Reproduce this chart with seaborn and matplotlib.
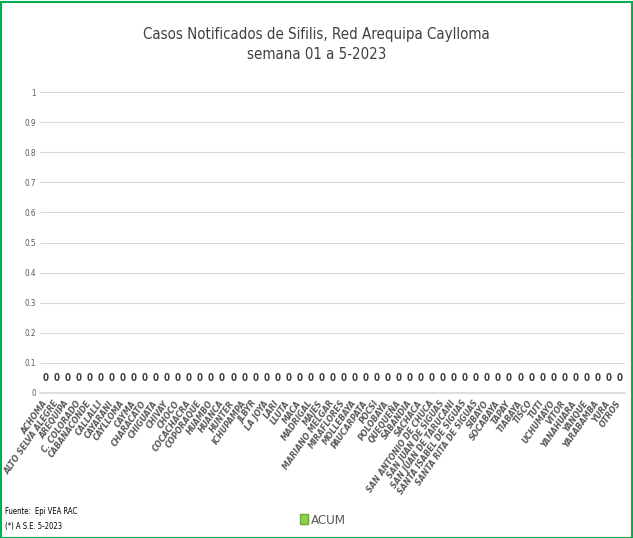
import matplotlib
matplotlib.use("Agg")
import matplotlib.pyplot as plt
import seaborn as sns
import pandas as pd
from matplotlib.patches import Rectangle, Patch

categories = ["ACHOMA", "ALTO SELVA ALEGRE", "AREQUIPA", "C. COLORADO", "CABANACONDE",
              "CALLALLI", "CAYARANI", "CAYLLOMA", "CAYMA", "CHARACATO", "CHIGUATA",
              "CHIVAY", "CHOCO", "COCACHACRA", "COPORAQUE", "HUAMBO", "HUANCA", "HUNTER",
              "ICHUPAMPA", "JLBYR", "LA JOYA", "LARI", "LLUTA", "MACA", "MADRIGAL", "MAJES",
              "MARIANO MELGAR", "MIRAFLORES", "MOLLEBAYA", "PAUCARPATA", "POCSI", "POLOBAYA",
              "QUEQUEÑA", "SABANDIA", "SACHACA", "SAN ANTONIO DE CHUCA", "SAN JUAN DE SIGUAS",
              "SAN JUAN DE TARUCANI", "SANTA ISABEL DE SIGUAS", "SANTA RITA DE SIGUAS",
              "SIBAYO", "SOCABAYA", "TAPAY", "TIABAYA", "TISCO", "TUTI", "UCHUMAYO", "VITOR",
              "YANAHUARA", "YANQUE", "YARABAMBA", "YURA", "OTROS"]
acum = [0] * len(categories)
y_ticks = [0, 0.1, 0.2, 0.3, 0.4, 0.5, 0.6, 0.7, 0.8, 0.9, 1]
y_tick_labels = ["0", "0.1", "0.2", "0.3", "0.4", "0.5", "0.6", "0.7", "0.8", "0.9", "1"]

df = pd.DataFrame({"cat": categories, "ACUM": acum})

sns.set_theme(style="white")
plt.rcParams["font.family"] = ["DejaVu Sans"]

fig = plt.figure(figsize=(6.33, 5.38), dpi=100)
ax = fig.add_axes([40 / 633, 1 - 393 / 538, 585 / 633, 301 / 538])

green = "#92d050"
sns.barplot(data=df, x="cat", y="ACUM", color=green, ax=ax, width=0.6)

ax.set_ylim(0, 1)
ax.set_yticks(y_ticks)
ax.set_yticklabels(y_tick_labels, fontsize=5.8, color="#595959", fontstretch="condensed")
ax.grid(axis="y", color="#d9d9d9", linewidth=0.8)
ax.set_axisbelow(True)
for s in ["left", "right", "top"]:
    ax.spines[s].set_visible(False)
ax.spines["bottom"].set_color("#d9d9d9")
ax.tick_params(axis="y", length=0, pad=3)
ax.tick_params(axis="x", length=0, pad=6)
ax.set_xlabel("")
ax.set_ylabel("")
ax.set_xlim(-0.5, len(categories) - 0.5)

ax.set_xticks(range(len(categories)))
ax.set_xticklabels(categories, rotation=55, ha="right", va="center", rotation_mode="anchor",
                   fontsize=6.3, color="#595959", fontstyle="italic", fontweight="bold",
                   fontstretch="condensed")

for c in ax.containers:
    ax.bar_label(c, labels=[str(v) for v in acum], padding=7, fontsize=7,
                 fontweight="bold", color="#404040", fontstretch="condensed")

fig.text(0.5, 1 - 34 / 538, "Casos Notificados de Sifilis, Red Arequipa Caylloma",
         ha="center", va="center", fontsize=10.8, color="#404040", fontstretch="condensed")
fig.text(0.5, 1 - 55 / 538, "semana 01 a 5-2023",
         ha="center", va="center", fontsize=10.8, color="#404040", fontstretch="condensed")

fig.text(0.008, 1 - 511 / 538, "Fuente:  Epi VEA RAC", fontsize=5.5, color="#000000",
         va="center", fontstretch="condensed")
fig.text(0.008, 1 - 527 / 538, "(*) A S.E. 5-2023", fontsize=5.5, color="#000000",
         va="center", fontstretch="condensed")

fig.legend(handles=[Patch(facecolor=green, edgecolor="#6aa83a")], labels=["ACUM"],
           loc="center", bbox_to_anchor=(323 / 633, 1 - 520 / 538), frameon=False,
           handlelength=0.6, handleheight=0.8, handletextpad=0.2,
           labelcolor="#595959", prop={"stretch": "condensed", "size": 9.5})

fig.patches.append(Rectangle((0.002, 0.0), 0.996, 0.997, transform=fig.transFigure,
                             fill=False, edgecolor="#00b050", linewidth=1.5))

fig.savefig("out.png", dpi=100)
